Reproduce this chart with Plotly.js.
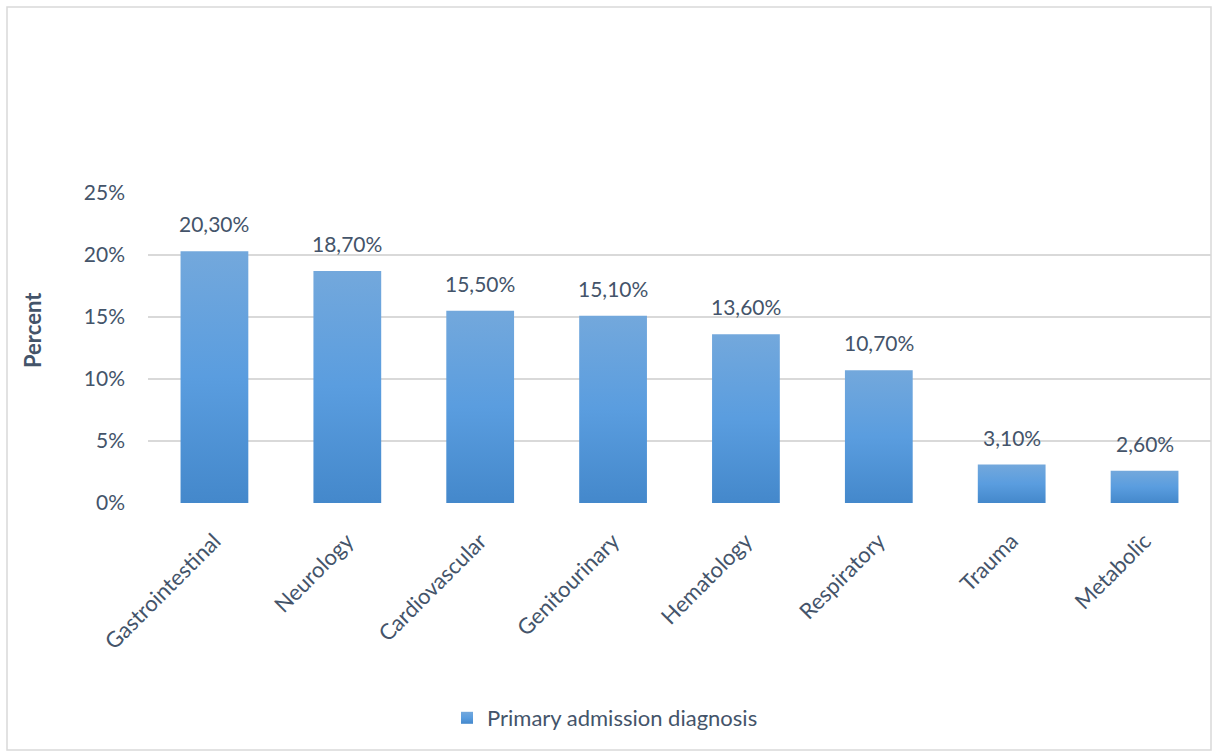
<!DOCTYPE html>
<html>
<head>
<meta charset="utf-8">
<script src="https://cdn.plot.ly/plotly-3.0.1.min.js"></script>
<style>
  html, body { margin: 0; padding: 0; background: #fff; }
  #chart { width: 1214px; height: 756px; }
</style>
</head>
<body>
<div id="chart"></div>
<script>
// Primary admission diagnosis, share of admissions (%)
const categories = ['Gastrointestinal', 'Neurology', 'Cardiovascular', 'Genitourinary',
                    'Hematology', 'Respiratory', 'Trauma', 'Metabolic'];
const percentValues = [20.3, 18.7, 15.5, 15.1, 13.6, 10.7, 3.1, 2.6];
const yTickValues = [0, 5, 10, 15, 20, 25];
const yTickLabels = ['0%', '5%', '10%', '15%', '20%', '25%'];
const seriesName = 'Primary admission diagnosis';
const yTitle = 'Percent';

const textColor = '#44546a';
const fontFamily = 'Lato, "Open Sans", sans-serif';

// Comma decimal separator, two decimals, e.g. "20,30%"
const valueLabels = percentValues.map(v => v.toFixed(2).replace('.', ',') + '%');

const W = 1214, H = 756;
const plotL = 148, plotR = 1211, plotT = 193, plotB = 503;
const pw = plotR - plotL, ph = plotB - plotT;
const px = x => (x - plotL) / pw;
const py = y => (plotB - y) / ph;

const trace = {
  type: 'bar',
  x: categories,
  y: percentValues,
  name: seriesName,
  marker: { color: '#5b9bd5', line: { width: 0 } },
  hoverinfo: 'x+y',
  showlegend: true
};

const annotations = categories.map((c, i) => ({
  x: c, y: percentValues[i], xref: 'x', yref: 'y',
  text: valueLabels[i], showarrow: false,
  yanchor: 'bottom', yshift: 13,
  font: { family: fontFamily, size: 21, color: textColor }
}));

// Vertical axis title
annotations.push({
  xref: 'paper', yref: 'paper', x: px(32), y: py(330),
  xanchor: 'center', yanchor: 'middle', textangle: -90,
  text: '<b>' + yTitle + '</b>', showarrow: false,
  font: { family: fontFamily, size: 22, color: textColor }
});

const layout = {
  width: W, height: H,
  margin: { l: plotL, r: W - plotR, t: plotT, b: H - plotB, pad: 0 },
  paper_bgcolor: '#ffffff',
  plot_bgcolor: '#ffffff',
  font: { family: fontFamily, size: 21, color: textColor },
  bargap: 0.49,
  xaxis: {
    type: 'category',
    tickangle: -45,
    showgrid: false,
    showline: false,
    zeroline: false,
    ticks: '',
    ticklen: 0,
    ticklabelstandoff: 20,
    tickfont: { family: fontFamily, size: 22, color: textColor },
    fixedrange: true
  },
  yaxis: {
    range: [0, 25],
    tickvals: yTickValues,
    ticktext: yTickLabels,
    showgrid: true,
    gridcolor: '#d9d9d9',
    gridwidth: 1.5,
    zeroline: false,
    showline: false,
    ticks: '',
    ticklabelstandoff: 22,
    tickfont: { family: fontFamily, size: 21, color: textColor },
    fixedrange: true
  },
  legend: {
    orientation: 'h',
    x: px(605), xanchor: 'center',
    y: py(718), yanchor: 'middle',
    font: { family: fontFamily, size: 22, color: textColor },
    itemwidth: 30
  },
  annotations: annotations,
  shapes: [{
    type: 'rect', xref: 'paper', yref: 'paper', layer: 'below',
    x0: px(7), x1: px(1211), y0: py(750), y1: py(7),
    line: { color: '#d9d9d9', width: 1.5 }, fillcolor: 'rgba(0,0,0,0)'
  }]
};

const gd = document.getElementById('chart');
Plotly.newPlot(gd, [trace], layout, { displayModeBar: false, staticPlot: true }).then(() => {
  // Vertical gradient fill for the bars and the legend swatch
  const svg = gd.querySelector('svg.main-svg');
  const ns = 'http://www.w3.org/2000/svg';
  let defs = svg.querySelector('defs');
  if (!defs) { defs = document.createElementNS(ns, 'defs'); svg.insertBefore(defs, svg.firstChild); }
  const grad = document.createElementNS(ns, 'linearGradient');
  grad.setAttribute('id', 'barGrad');
  grad.setAttribute('x1', '0'); grad.setAttribute('y1', '0');
  grad.setAttribute('x2', '0'); grad.setAttribute('y2', '1');
  [['0%', '#73a8dc'], ['50%', '#5a9ddf'], ['100%', '#4488cb']].forEach(([o, c]) => {
    const s = document.createElementNS(ns, 'stop');
    s.setAttribute('offset', o); s.setAttribute('stop-color', c);
    grad.appendChild(s);
  });
  defs.appendChild(grad);
  gd.querySelectorAll('.trace.bars .point path, .legend .legendpoints path').forEach(p => {
    p.style.fill = 'url(#barGrad)';
  });
});
</script>
</body>
</html>
